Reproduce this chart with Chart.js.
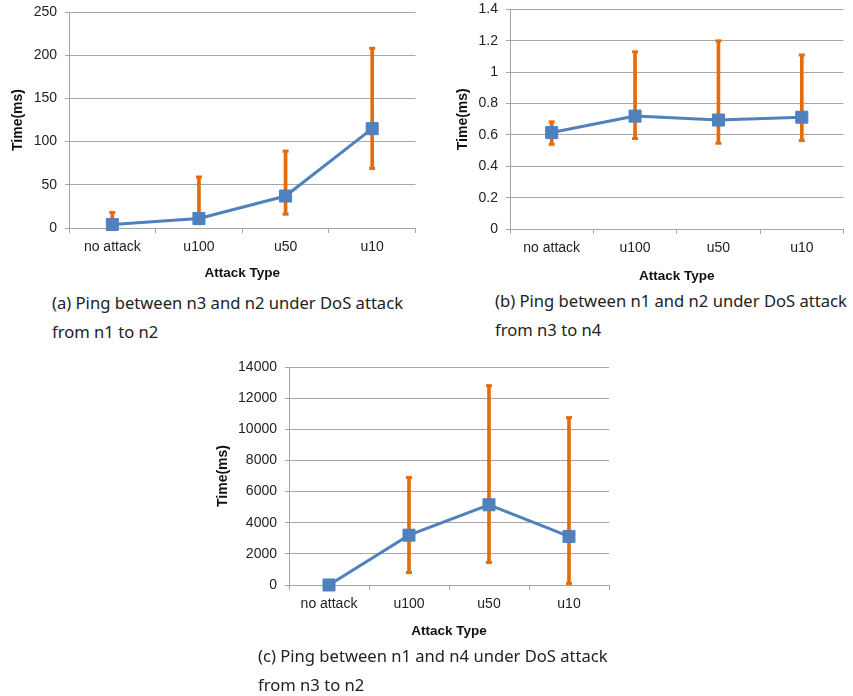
<!DOCTYPE html>
<html>
<head>
<meta charset="utf-8">
<script src="https://cdn.jsdelivr.net/npm/chart.js@4.4.1/dist/chart.umd.min.js"></script>
<style>
    body { margin: 0; background: #fff; width: 853px; height: 696px; position: relative; overflow: hidden; }
    .panel { position: absolute; }
    .caption { position: absolute; font-family: "Noto Sans", sans-serif; font-size: 16.6px; color: #222; line-height: 29px; white-space: nowrap; }
</style>
</head>
<body>
<div class="panel" style="left:0;top:0;width:425px;height:285px"><canvas id="chartA"></canvas></div>
<div class="panel" style="left:430px;top:0;width:423px;height:285px"><canvas id="chartB"></canvas></div>
<div class="panel" style="left:210px;top:355px;width:430px;height:290px"><canvas id="chartC"></canvas></div>

<div class="caption" style="left:52px;top:288px">(a) Ping between n3 and n2 under DoS attack<br>from n1 to n2</div>
<div class="caption" style="left:495px;top:286px">(b) Ping between n1 and n2 under DoS attack<br>from n3 to n4</div>
<div class="caption" style="left:258px;top:641px">(c) Ping between n1 and n4 under DoS attack<br>from n3 to n2</div>

<script>
const attackTypes = ['no attack', 'u100', 'u50', 'u10'];

// (a) n3 <-> n2
const pingA = [4, 11, 37, 115];
const pingAHigh = [18, 59, 89, 208];
const pingALow = [0, 5, 16, 69];

// (b) n1 <-> n2
const pingB = [0.615, 0.72, 0.695, 0.713];
const pingBHigh = [0.683, 1.13, 1.2, 1.11];
const pingBLow = [0.54, 0.577, 0.547, 0.564];

// (c) n1 <-> n4
const pingC = [0, 3200, 5150, 3120];
const pingCHigh = [null, 6900, 12800, 10750];
const pingCLow = [null, 800, 1450, 100];

const blue = '#4f81bd';
const orange = '#e46c0a';
const gridGray = '#a6a6a6';
const tickFont = { family: '"Liberation Sans", Arial, sans-serif', size: 14 };
const xTitleFont = { family: '"Liberation Sans", Arial, sans-serif', size: 13.5, weight: 'bold' };
const yTitleFont = { family: '"Liberation Sans", Arial, sans-serif', size: 14, weight: 'bold' };

function makeChart(id, values, highs, lows, yMax, yStep, box) {
    const ctx = document.getElementById(id).getContext('2d');
    const ranges = values.map((v, i) => highs[i] == null ? null : [lows[i], highs[i]]);

    return new Chart(ctx, {
        type: 'bar',
        data: {
            labels: attackTypes,
            datasets: [{
                type: 'line',
                data: values,
                borderColor: blue,
                borderWidth: 3,
                pointStyle: 'rect',
                pointRadius: 8.5,
                pointBackgroundColor: blue,
                pointBorderColor: blue,
                pointBorderWidth: 1,
                tension: 0,
                clip: false,
                order: 0
            }, {
                data: ranges,
                backgroundColor: orange,
                borderWidth: 0,
                barThickness: 3,
                clip: false,
                order: 2
            }, {
                type: 'line',
                data: highs,
                showLine: false,
                pointStyle: 'line',
                pointRadius: 3,
                pointBorderWidth: 3,
                pointBorderColor: orange,
                clip: false,
                order: 1
            }, {
                type: 'line',
                data: lows,
                showLine: false,
                pointStyle: 'line',
                pointRadius: 3,
                pointBorderWidth: 3,
                pointBorderColor: orange,
                clip: false,
                order: 1
            }]
        },
        options: {
            responsive: true,
            maintainAspectRatio: false,
            animation: false,
            events: [],
            layout: { padding: { top: box.top, right: box.right, left: 0, bottom: 0 } },
            plugins: {
                legend: { display: false },
                tooltip: { enabled: false }
            },
            scales: {
                x: {
                    offset: true,
                    grid: { display: true, drawOnChartArea: false, drawTicks: true, tickLength: 5, color: gridGray, offset: true },
                    border: { color: gridGray },
                    ticks: { font: tickFont, color: '#222', padding: 6 },
                    title: { display: true, text: 'Attack Type', font: xTitleFont, color: '#111', padding: { top: 0, bottom: box.xTitle } },
                    afterFit: function(scale) {
                        scale.height = box.xHeight;
                        scale.paddingLeft = 0;
                        scale.paddingRight = 0;
                    }
                },
                y: {
                    min: 0,
                    max: yMax,
                    grid: { color: gridGray, tickLength: 4 },
                    border: { color: gridGray },
                    ticks: {
                        stepSize: yStep,
                        font: tickFont,
                        color: '#222',
                        padding: 8,
                        callback: function(value) { return String(+value.toFixed(2)); }
                    },
                    title: { display: true, text: 'Time(ms)', font: yTitleFont, color: '#111', padding: { top: box.yTitle, bottom: 0 } },
                    afterFit: function(scale) {
                        scale.width = box.yWidth;
                        scale.paddingTop = 0;
                        scale.paddingBottom = 0;
                    }
                }
            }
        }
    });
}

makeChart('chartA', pingA, pingAHigh, pingALow, 250, 50,
    { top: 12, right: 9, yWidth: 69, xHeight: 57, yTitle: 10, xTitle: 4 });
makeChart('chartB', pingB, pingBHigh, pingBLow, 1.4, 0.2,
    { top: 9, right: 1, yWidth: 80, xHeight: 56, yTitle: 25, xTitle: 1 });
makeChart('chartC', pingC, pingCHigh, pingCLow, 14000, 2000,
    { top: 12, right: 31, yWidth: 79, xHeight: 60, yTitle: 5, xTitle: 6 });
</script>
</body>
</html>
